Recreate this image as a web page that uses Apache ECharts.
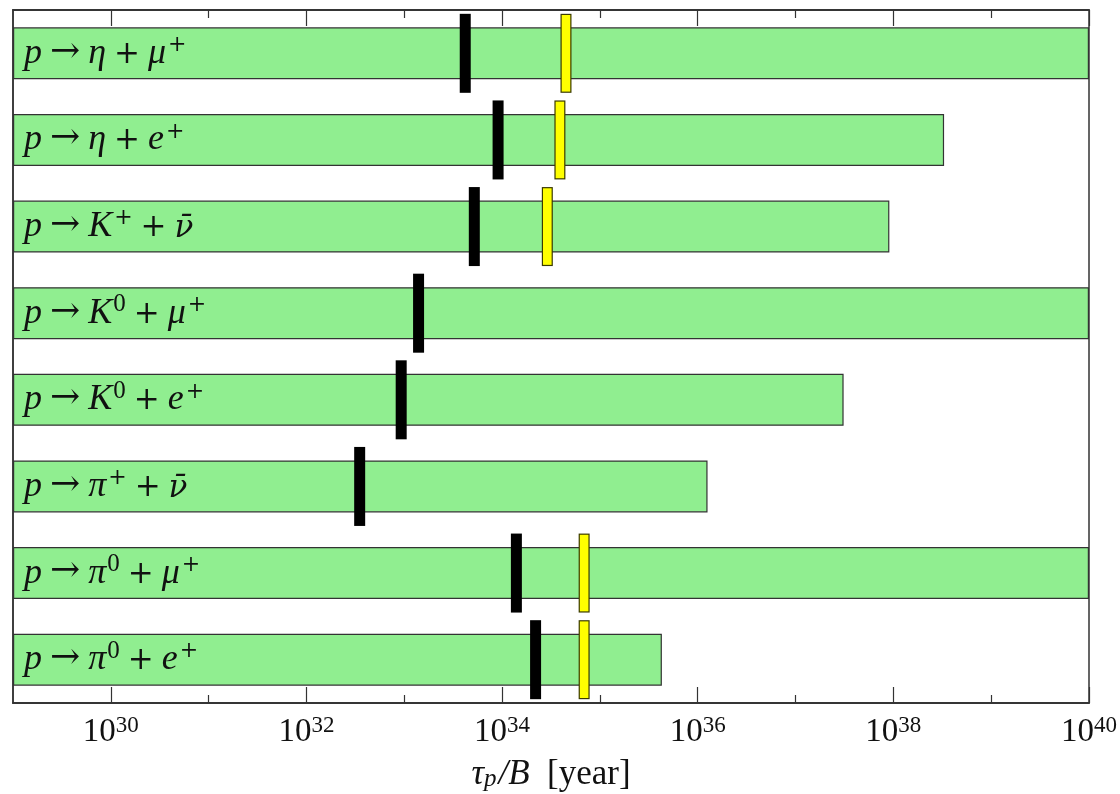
<!DOCTYPE html>
<html>
<head>
<meta charset="utf-8">
<script src="https://cdn.jsdelivr.net/npm/echarts@6/dist/echarts.min.js"></script>
<style>html,body{margin:0;padding:0;background:#fff}#c{width:1120px;height:794px}</style>
</head>
<body>
<div id="c"></div>
<script>
// Decay channels (top to bottom)
const categories = ['p → η + μ⁺', 'p → η + e⁺', 'p → K⁺ + ν̄', 'p → K⁰ + μ⁺', 'p → K⁰ + e⁺', 'p → π⁺ + ν̄', 'p → π⁰ + μ⁺', 'p → π⁰ + e⁺'];
// Green bar upper ends (years)
const barValues = [1e40, 3.3e38, 9.1e37, 1e40, 3.1e37, 1.26e36, 1e40, 4.3e35];
// Black markers
const blackValues = [4.2e33, 9.1e33, 5.2e33, 1.4e33, 9.3e32, 3.5e32, 1.4e34, 2.2e34];
// Yellow markers (null where absent)
const yellowValues = [4.5e34, 3.9e34, 2.9e34, null, null, null, 6.9e34, 6.9e34];
// Axis ticks
const majorTicks = [1e30, 1e32, 1e34, 1e36, 1e38, 1e40];
const minorTicks = [1e31, 1e33, 1e35, 1e37, 1e39];
const xMin = 1e29, xMax = 1e40;

const FONT = 'Liberation Serif';
const SYM = 'DejaVu Serif';
const TXT = '#111';

function toRich(s) {
  const chars = Array.from(s);
  let out = '';
  for (let i = 0; i < chars.length; i++) {
    let c = chars[i];
    if (chars[i + 1] === '\u0304') { out += '{nb|ν\u0304}'; i++; continue; }
    if (c === '⁺') out += '{s|+}';
    else if (c === '⁰') out += '{s0|0}';
    else if (c === ' ') out += '{sp| }';
    else if (c === '→') out += '{ar|→}';
    else if (c === '+') out += '{u|+}';
    else out += '{i|' + c + '}';
  }
  return out;
}

const chart = echarts.init(document.getElementById('c'), null, {renderer: 'canvas'});

const axisLineStyle = {color: '#333', width: 1.5};
function xAx(pos, ticks, len, labels) {
  return {
    type: 'log', logBase: 10, min: xMin, max: xMax, position: pos,
    axisLine: {show: true, lineStyle: axisLineStyle},
    axisTick: {show: true, inside: true, length: len, customValues: ticks, lineStyle: {color: '#333', width: 1.2}},
    axisLabel: labels ? {
      show: true, customValues: majorTicks, margin: 12,
      formatter: v => '{b|10}{e|' + Math.round(Math.log10(v)) + '}',
      rich: {
        b: {fontFamily: FONT, fontSize: 33, color: TXT, verticalAlign: 'bottom', lineHeight: 34},
        e: {fontFamily: FONT, fontSize: 23, color: TXT, verticalAlign: 'bottom', lineHeight: 34, padding: [0, 0, 12, 0]}
      }
    } : {show: false},
    splitLine: {show: false},
    minorTick: {show: false}
  };
}

const xAxes = [
  Object.assign(xAx('bottom', majorTicks, 16, true), {
    name: '{i|τ}{sub|p}{i|/B}{u|  [year]}', nameLocation: 'middle', nameGap: 53,
    nameTextStyle: {
      rich: {
        i: {fontFamily: FONT, fontStyle: 'italic', fontSize: 35, color: TXT, verticalAlign: 'bottom', lineHeight: 36},
        sub: {fontFamily: FONT, fontStyle: 'italic', fontSize: 25, color: TXT, verticalAlign: 'bottom', lineHeight: 36, padding: [0, 2, 0, 0]},
        u: {fontFamily: FONT, fontSize: 35, color: TXT, verticalAlign: 'bottom', lineHeight: 36}
      }
    }
  }),
  xAx('bottom', minorTicks, 8, false),
  xAx('top', majorTicks, 16, false),
  xAx('top', minorTicks, 8, false)
];

const lbl = {color: TXT, verticalAlign: 'bottom', lineHeight: 36};
const option = {
  animation: false,
  backgroundColor: '#fff',
  grid: {left: 13, right: 31, top: 10, bottom: 91, show: true, borderColor: '#333', borderWidth: 1.5,
         containLabel: false, outerBoundsMode: 'none'},
  xAxis: xAxes,
  yAxis: {
    type: 'category', data: categories, inverse: true,
    axisLine: {show: true, lineStyle: axisLineStyle},
    axisTick: {show: false},
    splitLine: {show: false},
    z: 10,
    axisLabel: {
      inside: true, margin: 11, align: 'left',
      formatter: v => toRich(v),
      rich: {
        i: Object.assign({fontFamily: FONT, fontStyle: 'italic', fontSize: 36}, lbl),
        nb: Object.assign({fontFamily: SYM, fontStyle: 'italic', fontSize: 31}, lbl),
        u: Object.assign({fontFamily: SYM, fontSize: 31, padding: [0, 0, 1, 0]}, lbl),
        ar: Object.assign({fontFamily: SYM, fontSize: 36, padding: [0, 0, 1, 0]}, lbl),
        sp: Object.assign({fontFamily: FONT, fontSize: 32}, lbl),
        s: Object.assign({fontFamily: SYM, fontSize: 22, padding: [0, 0, 15, 2]}, lbl),
        s0: Object.assign({fontFamily: FONT, fontSize: 25, padding: [0, 0, 14, 1]}, lbl)
      }
    }
  },
  series: [
    {
      type: 'bar', xAxisIndex: 0, data: barValues, barWidth: '60%',
      itemStyle: {color: '#90ee90', borderColor: '#333', borderWidth: 1.2},
      z: 2
    },
    {
      type: 'scatter', xAxisIndex: 0, symbol: 'rect', symbolSize: [11, 79],
      data: blackValues.map((v, i) => [v, i]),
      itemStyle: {color: '#000', opacity: 1},
      z: 3
    },
    {
      // outline of yellow markers
      type: 'scatter', xAxisIndex: 0, symbol: 'rect', symbolSize: [11, 79],
      data: yellowValues.map((v, i) => v == null ? null : [v, i]).filter(d => d),
      itemStyle: {color: '#3a3a00', opacity: 1},
      z: 3
    },
    {
      type: 'scatter', xAxisIndex: 0, symbol: 'rect', symbolSize: [8.6, 76.6],
      data: yellowValues.map((v, i) => v == null ? null : [v, i]).filter(d => d),
      itemStyle: {color: '#ffff00', opacity: 1},
      z: 4
    }
  ]
};
option.xAxis[0].startValue = xMin;
chart.setOption(option);
</script>
</body>
</html>
